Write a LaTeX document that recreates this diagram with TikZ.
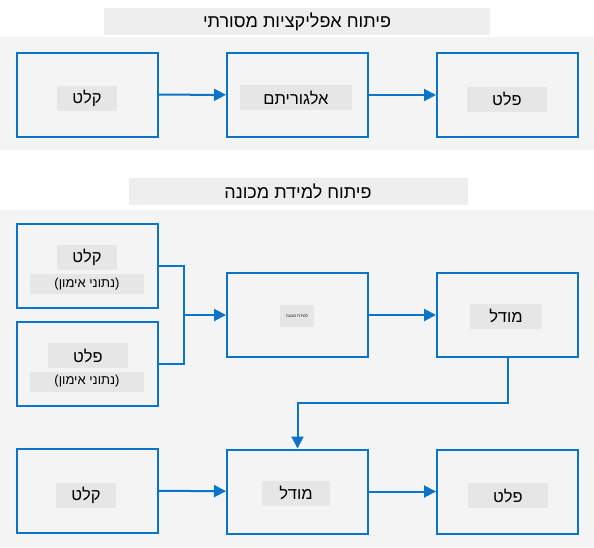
\documentclass[tikz,border=0pt]{standalone}
\usepackage{fontspec}
\setmainfont{Liberation Sans}
\newfontfamily\hebfont[Script=Hebrew]{Liberation Sans}
\TeXXeTstate=1
\usetikzlibrary{arrows.meta,calc}
\definecolor{MSBlue}{HTML}{0A74C9}
\definecolor{PanelGray}{HTML}{F4F4F4}
\definecolor{TitleGray}{HTML}{EEEEEE}
\definecolor{TagGray}{HTML}{E6E6E6}
\newcommand{\heb}[1]{\hebfont\beginR #1\endR}

\begin{document}
\begin{tikzpicture}[x=1pt,y=-1pt,
    stage/.style={draw=MSBlue,line width=2pt,minimum width=141pt,minimum height=84pt,inner sep=0pt},
    tag/.style={fill=TagGray,minimum height=25pt,inner sep=0pt,font=\fontsize{16.5}{18}\selectfont},
    note/.style={fill=TagGray,minimum height=20pt,minimum width=114pt,inner sep=0pt,font=\fontsize{13}{15}\selectfont},
    heading/.style={fill=TitleGray,minimum height=27pt,inner sep=0pt,font=\fontsize{18}{20}\selectfont},
    flow/.style={draw=MSBlue,line width=2pt,-{Triangle[length=12pt,width=12pt]}},
    wire/.style={draw=MSBlue,line width=2pt}]
    \useasboundingbox (0,0) rectangle (594,547);
    % panels
    \fill[PanelGray] (0,37) rectangle (594,150);
    \fill[PanelGray] (0,210) rectangle (594,547);
    \node[heading,minimum width=386pt] (title1) at (297,21.5) {\heb{פיתוח אפליקציות מסורתי}};
    \node[heading,minimum width=339pt] (title2) at (298,191) {\heb{פיתוח למידת מכונה}};

    % traditional development
    \node[stage] (in1)  at (87.5,94.5) {};
    \node[stage] (alg)  at (297.5,95) {};
    \node[stage] (out1) at (507.5,95) {};
    \node[tag,minimum width=60pt]  at (87,98)    {\heb{קלט}};
    \node[tag,minimum width=112pt] at (296,97.5) {\heb{אלגוריתם}};
    \node[tag,minimum width=80pt]  at (507,99)   {\heb{פלט}};
    \draw[flow] (in1) -- (alg);
    \draw[flow] (alg) -- (out1);

    % machine learning: training
    \node[stage] (trin)  at (87.5,265.5) {};
    \node[stage] (trout) at (87.5,364) {};
    \node[stage] (learn) at (297.5,315) {};
    \node[stage] (model) at (507.5,315) {};
    \node[tag,minimum width=60pt] at (87,257.5)  {\heb{קלט}};
    \node[note] at (87,284)                      {\heb{(נתוני אימון)}};
    \node[tag,minimum width=80pt] at (88,355.5)  {\heb{פלט}};
    \node[note] at (87,381.5)                    {\heb{(נתוני אימון)}};
    \node[tag,minimum width=34pt,minimum height=22pt,font=\fontsize{4}{5}\selectfont] at (297,316) {\heb{למידת מכונה}};
    \node[tag,minimum width=72pt] at (506,316)   {\heb{מודל}};
    \coordinate (join) at (184,315);
    \draw[wire] (trin.east) -| (join);
    \draw[wire] (trout.east) -| (join);
    \draw[flow] (join) -- (learn.west);
    \draw[flow] (learn) -- (model);

    % machine learning: use
    \node[stage] (usein)  at (87.5,490.5) {};
    \node[stage] (usemod) at (297.5,491.5) {};
    \node[stage] (useout) at (507.5,491.5) {};
    \node[tag,minimum width=60pt] at (86,495)    {\heb{קלט}};
    \node[tag,minimum width=68pt] at (296,493)   {\heb{מודל}};
    \node[tag,minimum width=80pt] at (508,495.5) {\heb{פלט}};
    \coordinate (turn) at (297.5,403);
    \draw[flow] (model.south) |- (turn) -- (usemod.north);
    \draw[flow] (usein) -- (usemod);
    \draw[flow] (usemod) -- (useout);
\end{tikzpicture}
\end{document}
